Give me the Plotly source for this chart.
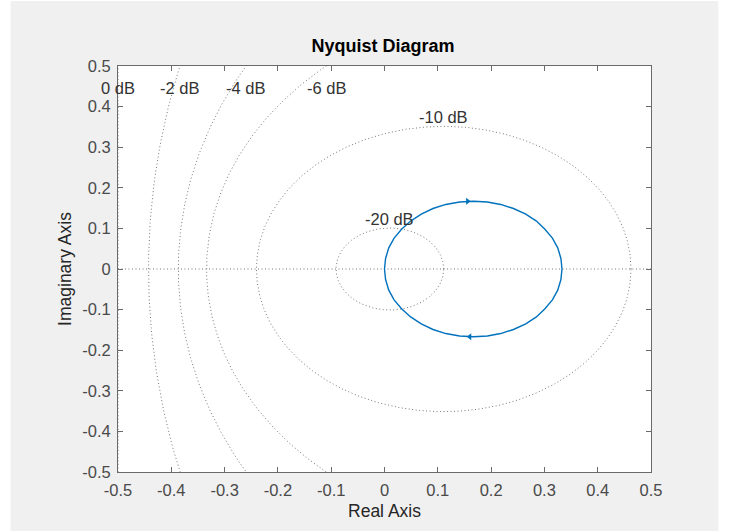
import numpy as np
import plotly.graph_objects as go

# Nyquist response of the system, positive frequencies (w: 0 -> inf)
re_pos = [0.333, 0.331, 0.325, 0.315, 0.301, 0.285, 0.265, 0.242, 0.218, 0.193, 0.167,
          0.141, 0.115, 0.091, 0.069, 0.049, 0.032, 0.018, 0.008, 0.002, 0.000]
im_pos = [0.000, -0.026, -0.052, -0.076, -0.098, -0.118, -0.135, -0.149, -0.159, -0.165, -0.167,
          -0.165, -0.159, -0.149, -0.135, -0.118, -0.098, -0.076, -0.052, -0.026, 0.000]
# negative frequencies (w: -inf -> 0)
re_neg = [0.000, 0.002, 0.008, 0.018, 0.032, 0.049, 0.069, 0.091, 0.115, 0.141, 0.167,
          0.193, 0.218, 0.242, 0.265, 0.285, 0.301, 0.315, 0.325, 0.331, 0.333]
im_neg = [0.000, 0.026, 0.052, 0.076, 0.098, 0.118, 0.135, 0.149, 0.159, 0.165, 0.167,
          0.165, 0.159, 0.149, 0.135, 0.118, 0.098, 0.076, 0.052, 0.026, 0.000]

# direction arrows on each branch
arrow_x = [0.156, 0.160]
arrow_y = [0.167, -0.167]
arrow_sym = ["triangle-right", "triangle-left"]

# constant-magnitude (M) circle levels in dB
m_db = [0, -2, -4, -6, -10, -20]
tick_vals = [-0.5, -0.4, -0.3, -0.2, -0.1, 0, 0.1, 0.2, 0.3, 0.4, 0.5]
tick_text = ["-0.5", "-0.4", "-0.3", "-0.2", "-0.1", "0", "0.1", "0.2", "0.3", "0.4", "0.5"]

BLUE = "#0072BD"
GRID = "#777777"
TXT = "#262626"
AX = "#6a6a6a"
FONT = "Liberation Sans, Arial, sans-serif"
DOT = "1px,2.5px"

fig = go.Figure()

annotations = []
t = np.linspace(0, 2 * np.pi, 721)
for db in m_db:
    m = 10 ** (db / 20)
    if db == 0:
        gx, gy = [-0.5, -0.5], [-0.5, 0.5]
        lx, ly, yanc = -0.5, 0.446, "middle"
    else:
        c = -m * m / (m * m - 1)
        r = abs(m / (m * m - 1))
        gx = c + r * np.cos(t)
        gy = r * np.sin(t)
        if r < 0.5:
            lx, ly, yanc = c, r - 0.004, "bottom"
        else:
            lx, ly, yanc = c - np.sqrt(r * r - 0.25), 0.446, "middle"
    fig.add_trace(go.Scatter(x=gx, y=gy, mode="lines", hoverinfo="skip",
                             line=dict(color=GRID, width=1, dash=DOT), showlegend=False))
    annotations.append(dict(x=lx, y=ly, xref="x", yref="y", text=f"{db} dB", showarrow=False,
                            xanchor="center", yanchor=yanc,
                            font=dict(family=FONT, size=16.5, color="#333333")))

# real axis
fig.add_trace(go.Scatter(x=[-0.5, 0.5], y=[0, 0], mode="lines", hoverinfo="skip",
                         line=dict(color=GRID, width=1, dash=DOT), showlegend=False))

fig.add_trace(go.Scatter(x=re_pos, y=im_pos, mode="lines", line=dict(color=BLUE, width=1.4),
                         showlegend=False))
fig.add_trace(go.Scatter(x=re_neg, y=im_neg, mode="lines", line=dict(color=BLUE, width=1.4),
                         showlegend=False))
fig.add_trace(go.Scatter(x=arrow_x, y=arrow_y, mode="markers",
                         marker=dict(symbol=arrow_sym, size=6, color=BLUE, line=dict(width=0)),
                         showlegend=False))

axis_common = dict(
    range=[-0.5, 0.5], tickmode="array", tickvals=tick_vals, ticktext=tick_text,
    ticks="inside", ticklen=5, tickcolor=AX, tickwidth=1, ticklabelstandoff=3,
    showline=True, linecolor=AX, linewidth=1, mirror="ticks",
    showgrid=False, zeroline=False,
    tickfont=dict(family=FONT, size=16.5, color="#4a4a4a"),
)

fig.update_layout(
    width=739, height=531,
    margin=dict(l=118, r=88, t=66, b=59),
    paper_bgcolor="white", plot_bgcolor="white",
    title=dict(text="<b>Nyquist Diagram</b>", x=383 / 739, xanchor="center",
               y=1 - 46 / 531, yanchor="middle",
               font=dict(family=FONT, size=18, color="#000000")),
    xaxis=dict(axis_common, title=dict(text="Real Axis", standoff=6,
                                       font=dict(family=FONT, size=17.5, color=TXT))),
    yaxis=dict(axis_common, title=dict(text="Imaginary Axis", standoff=6,
                                       font=dict(family=FONT, size=17.5, color=TXT))),
    annotations=annotations,
    shapes=[
        dict(type="rect", xref="paper", yref="paper", x0=-0.2015, x1=1.1264, y0=-0.1453, y1=1.160,
             fillcolor="#f0f0f0", line=dict(width=0), layer="below"),
        dict(type="rect", xref="paper", yref="paper", x0=0, x1=1, y0=0, y1=1,
             fillcolor="white", line=dict(width=0), layer="below"),
    ],
)

fig.write_html("out.html")
